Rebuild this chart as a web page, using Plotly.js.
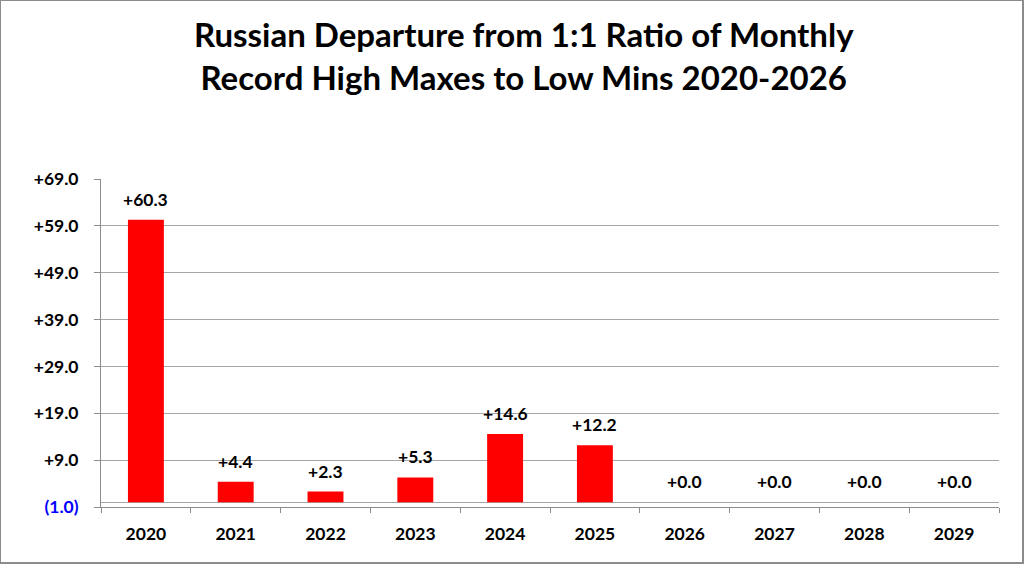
<!DOCTYPE html>
<html>
<head>
<meta charset="utf-8">
<script src="https://cdn.plot.ly/plotly-3.0.1.min.js"></script>
<style>
    body { margin: 0; background: #ffffff; }
    #chart {
        width: 1024px;
        height: 564px;
        box-sizing: border-box;
        border: 1px solid #8c8c8c;
        border-right-width: 2px;
        border-bottom-width: 2px;
    }
</style>
</head>
<body>
<div id="chart"></div>
<script>
const years = ["2020", "2021", "2022", "2023", "2024", "2025", "2026", "2027", "2028", "2029"];
const departures = [60.3, 4.4, 2.3, 5.3, 14.6, 12.2, 0.0, 0.0, 0.0, 0.0];
const tickValues = [-1, 9, 19, 29, 39, 49, 59, 69];
const tickLabels = ["(1.0)", "+9.0", "+19.0", "+29.0", "+39.0", "+49.0", "+59.0", "+69.0"];

const fontFamily = "Lato, 'Open Sans', sans-serif";
const gridColor = "#a6a6a6";

// negative tick shown in blue, like the spreadsheet number format
const tickText = tickLabels.map((label, i) =>
    tickValues[i] < 0 ? `<span style="color:#0000ff">${label}</span>` : label
);

// value labels above the bars; x is the category index so
// "2020" is not read as a position on the axis
const labels = departures.map((v, i) => ({
    x: i,
    y: v,
    text: (v >= 0 ? "+" : "") + v.toFixed(1),
    showarrow: false,
    yanchor: "bottom",
    yshift: 8,
    font: { family: fontFamily, size: 17.5, color: "#000000", weight: 700 },
}));

const data = [
    {
        x: years,
        y: departures,
        type: "bar",
        marker: { color: "#ff0000" },
        hoverinfo: "x+y",
    },
];

const layout = {
    width: 1021,
    height: 561,
    margin: { l: 100, r: 23, t: 178, b: 55 },
    paper_bgcolor: "#ffffff",
    plot_bgcolor: "#ffffff",
    bargap: 0.6,
    showlegend: false,
    title: {
        text: "Russian Departure from 1:1 Ratio of Monthly<br>Record High Maxes to Low Mins 2020-2026",
        font: { family: fontFamily, size: 33, color: "#000000", weight: 700 },
        x: 0.512,
        xref: "container",
        y: 0.918,
        yanchor: "top",
    },
    xaxis: {
        type: "category",
        range: [-0.5, years.length - 0.5],
        showline: true,
        linecolor: "#8c8c8c",
        linewidth: 1,
        ticks: "outside",
        tickson: "boundaries",
        ticklen: 5,
        tickcolor: "#8c8c8c",
        ticklabelstandoff: 11,
        tickangle: 0,
        tickfont: { family: fontFamily, size: 17.5, color: "#000000", weight: 700 },
        showgrid: false,
    },
    yaxis: {
        range: [-1, 69],
        tickvals: tickValues,
        ticktext: tickText,
        showline: true,
        linecolor: "#8c8c8c",
        linewidth: 1,
        ticks: "outside",
        ticklen: 6,
        tickcolor: "#8c8c8c",
        ticklabelstandoff: 12,
        tickfont: { family: fontFamily, size: 17.5, color: "#000000", weight: 700 },
        showgrid: true,
        gridcolor: gridColor,
        gridwidth: 1,
        zeroline: true,
        zerolinecolor: gridColor,
        zerolinewidth: 1,
    },
    annotations: labels,
};

Plotly.newPlot("chart", data, layout, { displayModeBar: false });
</script>
</body>
</html>
